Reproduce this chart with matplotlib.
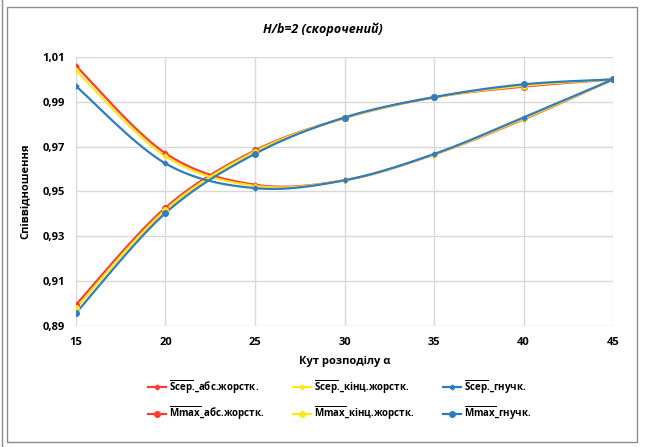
import numpy as np
import matplotlib
matplotlib.use('Agg')
import matplotlib.pyplot as plt
from matplotlib.lines import Line2D
from matplotlib.ticker import FuncFormatter

plt.rcParams['font.family'] = ['Open Sans', 'DejaVu Sans']
plt.rcParams['font.weight'] = 'bold'
plt.rcParams['mathtext.fontset'] = 'custom'
plt.rcParams['mathtext.rm'] = 'Open Sans:bold'

# кут розподілу
angles = [15, 20, 25, 30, 35, 40, 45]

# Scep. (спадні криві)
s_abs = [1.006, 0.967, 0.9530, 0.9550, 0.9665, 0.9822, 1.000]
s_kinc = [1.004, 0.9657, 0.9525, 0.9550, 0.9665, 0.9825, 1.000]
s_gn = [0.997, 0.9625, 0.9515, 0.9550, 0.9667, 0.9830, 1.000]

# Mmax (зростаючі криві)
m_abs = [0.8995, 0.9428, 0.9683, 0.9828, 0.9920, 0.9968, 1.000]
m_kinc = [0.8980, 0.9418, 0.9678, 0.9828, 0.9920, 0.9972, 1.000]
m_gn = [0.8958, 0.9404, 0.9668, 0.9830, 0.9921, 0.9978, 1.000]

red = '#FF3B2F'
yellow = '#FFE81A'
blue = '#2F7DC1'


def smooth(x, y, n=30):
    # згладжування як в Excel (кубічні Безьє)
    x = np.asarray(x, float)
    y = np.asarray(y, float)
    px, py = [], []
    for i in range(len(x) - 1):
        x0, y0 = (x[i - 1], y[i - 1]) if i > 0 else (x[i], y[i])
        x3, y3 = (x[i + 2], y[i + 2]) if i + 2 < len(x) else (x[i + 1], y[i + 1])
        c1x = x[i] + (x[i + 1] - x0) / 6
        c1y = y[i] + (y[i + 1] - y0) / 6
        c2x = x[i + 1] - (x3 - x[i]) / 6
        c2y = y[i + 1] - (y3 - y[i]) / 6
        t = np.linspace(0, 1, n)
        bx = (1-t)**3*x[i] + 3*(1-t)**2*t*c1x + 3*(1-t)*t**2*c2x + t**3*x[i+1]
        by = (1-t)**3*y[i] + 3*(1-t)**2*t*c1y + 3*(1-t)*t**2*c2y + t**3*y[i+1]
        px.extend(bx)
        py.extend(by)
    return px, py


fig = plt.figure(figsize=(6.46, 4.47), dpi=100)
ax = fig.add_axes([0.1176, 0.2707, 0.8314, 0.6018])

series = [
    (s_abs, red, 'D', 2.5), (m_abs, red, 'o', 4),
    (s_kinc, yellow, 'D', 2.5), (m_kinc, yellow, 'o', 4),
    (s_gn, blue, 'D', 2.5), (m_gn, blue, 'o', 4),
]
for ys, c, mk, ms in series:
    sx, sy = smooth(angles, ys)
    ax.plot(sx, sy, color=c, lw=1.6, zorder=3)
    ax.plot(angles, ys, ls='none', marker=mk, ms=ms, color=c, zorder=4)

ax.set_xlim(15, 45)
ax.set_ylim(0.89, 1.01)
ax.set_xticks(angles)
ax.set_yticks(np.arange(0.89, 1.0101, 0.02))
ax.yaxis.set_major_formatter(FuncFormatter(lambda v, p: ('%.2f' % v).replace('.', ',')))
ax.grid(True, color='#D9D9D9', lw=1)
ax.set_axisbelow(True)
for s in ax.spines.values():
    s.set_visible(False)
ax.tick_params(length=0, labelsize=8, pad=8)
for lb in ax.get_xticklabels() + ax.get_yticklabels():
    lb.set_fontweight('bold')

ax.set_xlabel('Кут розподілу α', fontsize=8, fontweight='bold', labelpad=6)
ax.set_ylabel('Співвідношення', fontsize=8, fontweight='bold', labelpad=8)
fig.text(0.5, 0.935, 'H/b=2 (скорочений)', ha='center', va='center',
         fontsize=9, fontweight='bold', style='italic')

labels = [
    r'$\overline{\mathrm{Sсер}}$._абс.жорстк.', r'$\overline{\mathrm{Mmax}}$_абс.жорстк.',
    r'$\overline{\mathrm{Sсер}}$._кінц.жорстк.', r'$\overline{\mathrm{Mmax}}$_кінц.жорстк.',
    r'$\overline{\mathrm{Sсер}}$._гнучк.', r'$\overline{\mathrm{Mmax}}$_гнучк.',
]
handles = [Line2D([], [], color=c, lw=1.6, marker=mk, ms=ms) for _, c, mk, ms in series]
fig.legend(handles, labels, ncol=3, loc='center left', bbox_to_anchor=(0.229, 0.105),
           frameon=False, fontsize=7, handlelength=1.9, columnspacing=2.9,
           labelspacing=0.95, handletextpad=0.3, borderpad=0, borderaxespad=0)

# рамка
fig.patches.append(plt.Rectangle((7/646, 5/447), 630/646, 435/447, fill=False,
                                 ec='#8C8C8C', lw=1, transform=fig.transFigure))
fig.lines.append(Line2D([2/646, 2/646], [0, 1], color='#8C8C8C', lw=1,
                        transform=fig.transFigure))

fig.savefig('out.png', dpi=100)
